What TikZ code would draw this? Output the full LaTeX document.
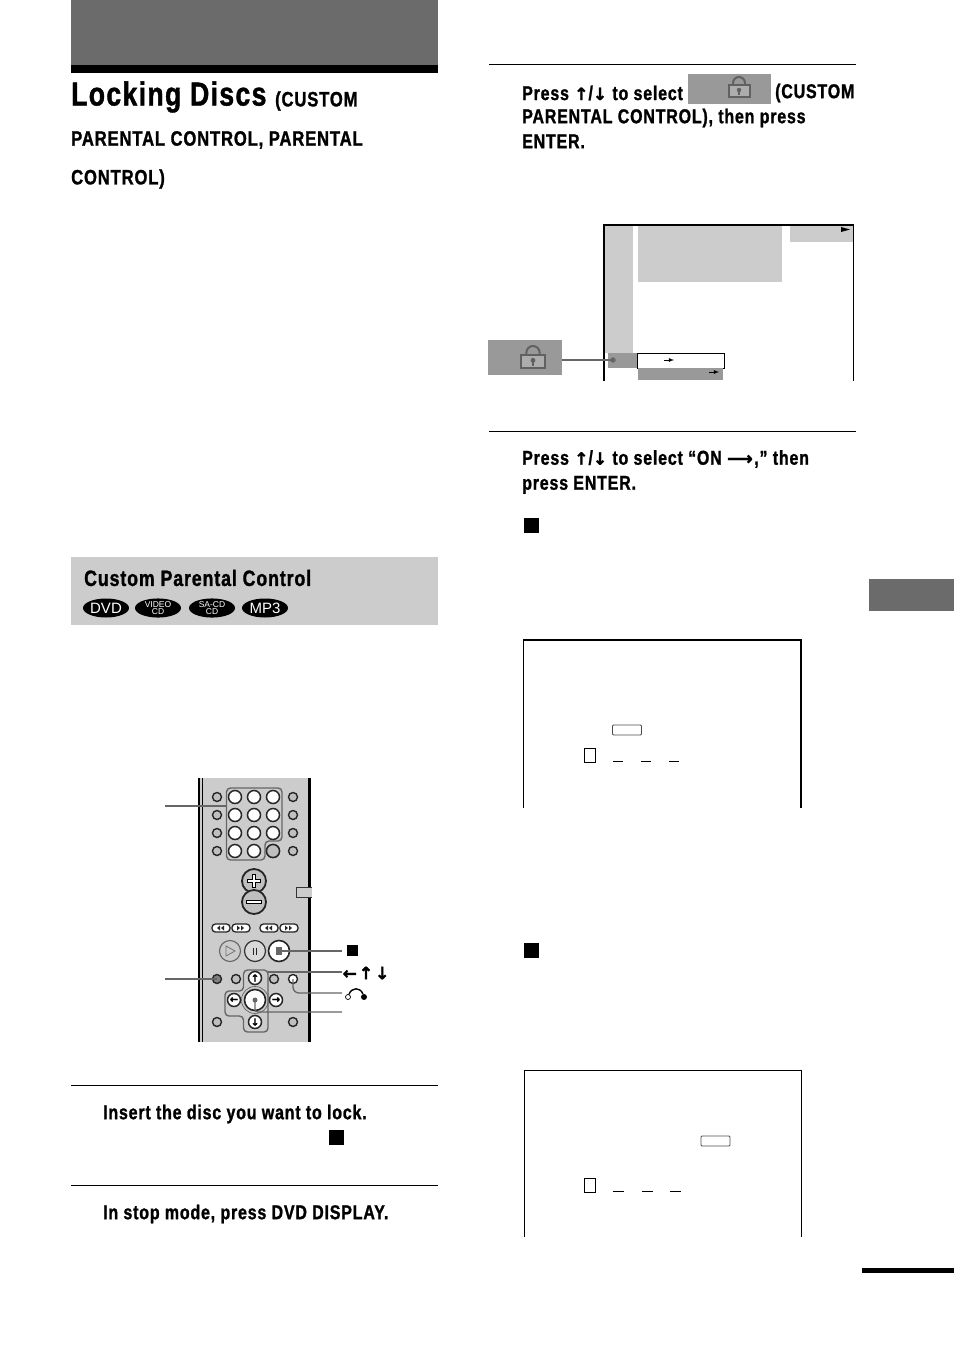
\documentclass[tikz,border=0pt]{standalone}
\usepackage{fontspec}
\setmainfont{Liberation Sans}[FakeStretch=0.8, LetterSpace=4, BoldFeatures={FakeBold=1.2}]
\newfontfamily\discfont{Liberation Sans}
\newfontfamily\arrowfont{DejaVu Sans}[FakeBold=1.5]
\newcommand{\uparr}{{\arrowfont\fontsize{17}{17}\selectfont\bfseries ↑}}
\newcommand{\downarr}{{\arrowfont\fontsize{17}{17}\selectfont\bfseries ↓}}
\newcommand{\leftarr}{{\arrowfont\fontsize{17}{17}\selectfont\bfseries ←}}
\newcommand{\rightarr}{{\arrowfont\fontsize{18}{17}\selectfont ⟶}\kern1.5pt}
\usetikzlibrary{shapes.geometric}

\tikzset{
  steptext/.style={anchor=west, inner sep=0pt, align=left, font=\fontsize{20}{25}\selectfont\bfseries},
  headtext/.style={steptext, font=\fontsize{20.8}{21}\selectfont\bfseries},
  greybox/.style={anchor=north west, inner sep=0pt, outer sep=0pt, fill=black!20},
  darkbox/.style={anchor=north west, inner sep=0pt, outer sep=0pt, fill=black!40},
  rulebar/.style={anchor=north west, inner sep=0pt, outer sep=0pt},
  stopmark/.style={fill=black, inner sep=0pt, minimum size=15},
  disc/.style={ellipse, fill=black, text=white, inner sep=0pt, minimum width=46, minimum height=19, font=\discfont\fontsize{15}{15}\selectfont},
  smalldisc/.style={disc, align=center, font=\discfont\fontsize{8.5}{8.5}\selectfont},
  leader/.style={black!60, line width=1.3},
  wheel/.style={circle, draw=black!85, line width=1.5, inner sep=0pt, minimum size=12, fill=white},
  knob/.style={circle, draw=black!85, line width=1.4, inner sep=0pt, minimum size=9, fill=black!25},
  pill/.style={rounded corners=3.5, draw=black!85, line width=1.3, fill=white, inner sep=0pt, minimum width=18, minimum height=8},
  inputbox/.style={draw=black!70, rounded corners=1, line width=.9, inner sep=0pt, minimum width=29, minimum height=10},
  digitbox/.style={draw=black, line width=.8, inner sep=0pt, minimum width=11, minimum height=14},
  lockicon/.pic={
    \draw[black!62, line width=2, fill=black!32] (-10.5,-2) rectangle (10.5,10);
    \draw[black!62, line width=2] (-6,-2) -- (-6,-4) arc (180:360:6) -- (6,-2);
    \fill[black!62] (0,3) circle (2.2);
    \draw[black!62, line width=1.2] (0,3) -- (0,8);
  }
}

\begin{document}
\begin{tikzpicture}[x=1pt, y=-1pt]
  \useasboundingbox (0,0) rectangle (954,1352);

  % left column, heading
  \node[rulebar, fill=black!58, minimum width=367, minimum height=65] (band) at (71,0) {};
  \node[rulebar, fill=black, minimum width=367, minimum height=8] (bandfoot) at (71,65) {};
  \node[steptext, font=\fontsize{33.3}{34}\selectfont\bfseries] (title) at (71,97) {Locking Discs};
  \node[headtext] (titlea) at (275,101) {(CUSTOM};
  \node[headtext] (titleb) at (71,140) {PARENTAL CONTROL, PARENTAL};
  \node[headtext] (titlec) at (71,179) {CONTROL)};

  % section bar
  \node[greybox, minimum width=367, minimum height=68] (section) at (71,557) {};
  \node[steptext, font=\fontsize{22.2}{25}\selectfont\bfseries] (sectitle) at (84,578) {Custom Parental Control};
  \node[disc] (dvd) at (106,608) {DVD};
  \node[smalldisc] (vcd) at (158,608) {VIDEO\\[-1pt]CD};
  \node[smalldisc] (sacd) at (212,608) {SA-CD\\[-1pt]CD};
  \node[disc] (mpthree) at (265,608) {MP3};

  % remote
  \node[greybox, minimum width=113, minimum height=264] (remote) at (198,778) {};
  \draw[black, line width=1.6] (199,778) -- (199,1042);
  \draw[black, line width=.7] (202,778) -- (202,1042);
  \draw[black, line width=2.4] (309.5,778) -- (309.5,1042);
  \draw[black!60, line width=1.4, rounded corners=4] (226.5,788) -- (282,788) -- (282,841) -- (265,841) -- (265,860) -- (226.5,860) -- cycle;
  \draw[black!60, line width=1.4, rounded corners=4] (243.5,970) -- (243.5,991) -- (225,991) -- (225,1016) -- (243.5,1016) -- (243.5,1032) -- (268,1032) -- (268,970) -- cycle;
  \foreach \y/\n in {797/a, 815/b, 833/c, 851/d} {
    \node[knob] (l\n) at (217,\y) {};
    \node[knob] (r\n) at (293,\y) {};
    \node[wheel, minimum size=13] (wa\n) at (235,\y) {};
    \node[wheel, minimum size=13] (wb\n) at (254,\y) {};
    \node[wheel, minimum size=13] (wc\n) at (273,\y) {};
  }
  \node[knob, minimum size=13] (wcgrey) at (273,851) {};
  \node[circle, draw=black!85, line width=1.8, fill=black!25, inner sep=0pt, minimum size=24] (plus) at (254,881) {};
  \node[circle, draw=black!85, line width=1.8, fill=black!25, inner sep=0pt, minimum size=24] (minus) at (254,902) {};
  \draw[black, line width=3.6] (247,881) -- (261,881) (254,874) -- (254,888);
  \draw[white, line width=1.2] (248,881) -- (260,881) (254,875) -- (254,887);
  \draw[black, line width=3.6] (246,902) -- (262,902);
  \draw[white, line width=1.2] (247,902) -- (261,902);
  \draw[black!80, line width=1, fill=black!20] (312,887) -- (296,887) -- (296,897) -- (312,897);
  \foreach \x/\n in {221/a, 241/b, 269/c, 289/d}
    \node[pill] (pill\n) at (\x,928) {};
  \foreach \x in {217, 221, 265, 269}
    \fill[black!85] (\x+3,925.5) -- (\x,928) -- (\x+3,930.5) -- cycle;
  \foreach \x in {240, 244, 288, 292}
    \fill[black!85] (\x-3,925.5) -- (\x,928) -- (\x-3,930.5) -- cycle;
  \node[circle, draw=black!60, line width=1.1, fill=black!20, inner sep=0pt, minimum size=21] (play) at (230,951) {};
  \draw[black!55, line width=.8] (226,946) -- (235,951) -- (226,956) -- cycle;
  \node[circle, draw=black!80, line width=1.2, fill=black!15, inner sep=0pt, minimum size=21] (pause) at (255,951) {};
  \draw[black!85, line width=1.3] (253.5,947.5) -- (253.5,954.5) (256.5,947.5) -- (256.5,954.5);
  \node[wheel, line width=1.6, minimum size=21] (stopkey) at (279,951) {};
  \coordinate (stopdot) at (281,951);
  \fill[black!60] (276,947) rectangle (282,955);

  \node[knob, fill=black!50] (dvddisp) at (217,979) {};
  \node[knob] (kb) at (236,979) {};
  \node[knob] (kc) at (274,979) {};
  \node[knob, fill=white] (kreturn) at (293,979) {};
  \node[knob] (ke) at (217,1022) {};
  \node[knob] (kf) at (293,1022) {};
  \foreach \x/\y/\n in {255/978/up, 234/1000/left, 276/1000/right, 255/1022/down}
    \node[wheel, minimum size=13] (\n) at (\x,\y) {};
  \node[font=\arrowfont\fontsize{10}{10}\selectfont\bfseries, inner sep=0pt] (uplabel) at (up) {↑};
  \node[font=\arrowfont\fontsize{10}{10}\selectfont\bfseries, inner sep=0pt] (leftlabel) at (left) {←};
  \node[font=\arrowfont\fontsize{10}{10}\selectfont\bfseries, inner sep=0pt] (rightlabel) at (right) {→};
  \node[font=\arrowfont\fontsize{10}{10}\selectfont\bfseries, inner sep=0pt] (downlabel) at (down) {↓};
  \node[circle, draw=black!60, line width=.7, inner sep=0pt, minimum size=27] (enterring) at (255,1000) {};
  \node[wheel, line width=1.6, minimum size=21] (enter) at (255,1000) {};
  \fill[black!60] (enter.center) circle (2.5);

  % labels of the remote
  \coordinate (numleft) at (165,806);
  \coordinate (numright) at (226,806);
  \coordinate (displeft) at (165,979);
  \node[stopmark, minimum size=11] (stoplabel) at (352,950) {};
  \node[inner sep=0pt] (arrowlabel) at (366,973) {\leftarr\kern2pt\uparr\kern2pt\downarr};
  \coordinate (arrowend) at (342,972);
  \coordinate (arrowstart) at (268,972);
  \coordinate (returnend) at (342,993);
  \coordinate (enterend) at (342,1012);
  \draw[leader] (numleft) -- (numright);
  \draw[leader] (displeft) -- (dvddisp.center);
  \draw[leader] (stopdot) -- (342,951);
  \draw[leader] (arrowstart) -- (arrowend);
  \draw[leader, rounded corners=6] (kreturn.center) -- (293,993) -- (returnend);
  \draw[leader, rounded corners=3] (enter.center) -- (255,1012) -- (enterend);
  \node[circle, draw=black, fill=white, line width=.7, inner sep=0pt, minimum size=5] (retopen) at (348,997) {};
  \node[circle, fill=black, inner sep=0pt, minimum size=6] (retfull) at (364,997) {};
  \draw[black, line width=1.4] (retopen) to[out=70, in=110, looseness=1.4] (retfull);

  % steps 1 and 2
  \node[rulebar, fill=black, minimum width=367, minimum height=.8] (ruleone) at (71,1085.2) {};
  \node[steptext] (insert) at (103,1114) {Insert the disc you want to lock.};
  \node[stopmark] (stopone) at (336,1137) {};
  \node[rulebar, fill=black, minimum width=367, minimum height=.8] (ruletwo) at (71,1185.2) {};
  \node[steptext] (display) at (103,1214) {In stop mode, press DVD DISPLAY.};

  % step 3
  \node[rulebar, fill=black, minimum width=367, minimum height=.8] (rulethree) at (489,64.2) {};
  \node[steptext] (pressa) at (522,93) {Press \uparr/\downarr{} to select};
  \node[darkbox, minimum width=83, minimum height=30] (lockinline) at (688,74) {};
  \pic at (739,87) {lockicon};
  \node[steptext] (pressb) at (775,93) {(CUSTOM};
  \node[steptext, anchor=north west] (pressc) at (522,108.5) {PARENTAL CONTROL), then press\\ENTER.};

  % menu screen
  \node[greybox, minimum width=28, minimum height=128] (menubar) at (605,225) {};
  \node[greybox, minimum width=144, minimum height=57] (menutop) at (638,225) {};
  \node[greybox, minimum width=63, minimum height=17] (menuright) at (790,225) {};
  \node[darkbox, minimum width=29, minimum height=15] (menusel) at (608,353) {};
  \node[draw=black, line width=.9, fill=white, anchor=north west, inner sep=0pt, minimum width=87, minimum height=15] (menuon) at (637,353) {};
  \node[darkbox, minimum width=85, minimum height=12] (menuoff) at (638,368) {};
  \draw[black, line width=1.2] (604,381) -- (604,225) -- (853.5,225);
  \draw[black, line width=.8] (853.5,225) -- (853.5,381);
  \fill[black] (841,227) -- (850,229.5) -- (841,232) -- cycle;
  \coordinate (onarrow) at (664,360);
  \draw[black, line width=.8, -latex] (onarrow) -- +(10,0);
  \coordinate (offarrow) at (709,372);
  \draw[black, line width=.8, -latex] (offarrow) -- +(10,0);
  \node[darkbox, minimum width=74, minimum height=35] (lockcallout) at (488,340) {};
  \pic[scale=1.1] at (533,357) {lockicon};
  \coordinate (calloutedge) at (562,360);
  \coordinate (menudot) at (613,360);
  \fill[black!60] (menudot) circle (2.7);
  \draw[leader] (calloutedge) -- (menudot);

  % step 4
  \node[rulebar, fill=black, minimum width=367, minimum height=.8] (rulefour) at (489,431.2) {};
  \node[steptext, anchor=north west] (selecton) at (522,450) {Press \uparr/\downarr{} to select “ON \rightarr,” then\\press ENTER.};
  \node[stopmark] (stoptwo) at (531,525) {};

  % password screens
  \draw[black, line width=1.6] (523.5,808) -- (523.5,640) -- (801,640) -- (801,808);
  \node[inputbox] (pwinput) at (627,730) {};
  \node[digitbox] (pwfirst) at (589.5,755) {};
  \foreach \x in {613, 641, 669}
    \draw[black, line width=.8] (\x,761) -- (\x+10,761);
  \node[stopmark] (stopthree) at (531,950) {};
  \draw[black, line width=.8] (524.5,1237) -- (524.5,1070) -- (801.5,1070) -- (801.5,1237);
  \node[inputbox] (confirminput) at (715.5,1141) {};
  \node[digitbox] (confirmfirst) at (590,1185) {};
  \foreach \x in {613, 642, 670}
    \draw[black, line width=.8] (\x,1191) -- (\x+11,1191);

  % page marks
  \node[rulebar, fill=black!58, minimum width=85, minimum height=32] (tab) at (869,579) {};
  \node[rulebar, fill=black, minimum width=92, minimum height=5] (pagebar) at (862,1268) {};
\end{tikzpicture}
\end{document}
